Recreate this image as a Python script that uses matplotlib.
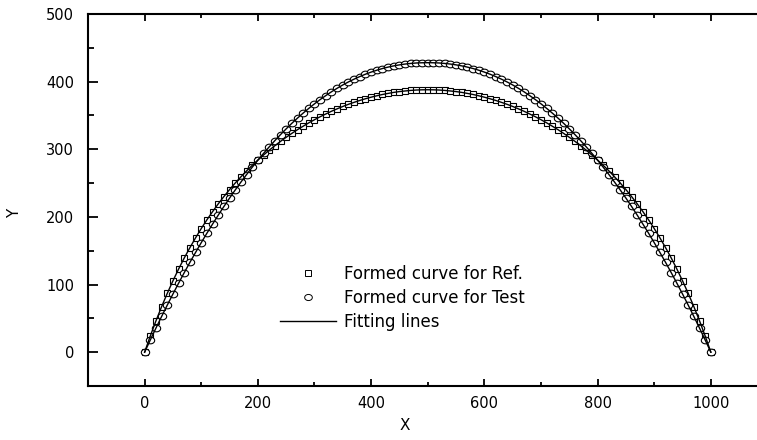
import matplotlib
matplotlib.use("Agg")
import matplotlib.pyplot as plt
from matplotlib.lines import Line2D
from matplotlib.path import Path
import numpy as np

x_vals = [0, 10, 20, 30, 40, 50, 60, 70, 80, 90, 100, 110, 120, 130, 140, 150, 160, 170, 180, 190,
          200, 210, 220, 230, 240, 250, 260, 270, 280, 290, 300, 310, 320, 330, 340, 350, 360, 370, 380, 390,
          400, 410, 420, 430, 440, 450, 460, 470, 480, 490, 500, 510, 520, 530, 540, 550, 560, 570, 580, 590,
          600, 610, 620, 630, 640, 650, 660, 670, 680, 690, 700, 710, 720, 730, 740, 750, 760, 770, 780, 790,
          800, 810, 820, 830, 840, 850, 860, 870, 880, 890, 900, 910, 920, 930, 940, 950, 960, 970, 980, 990,
          1000]

ref_y = [0, 23.9, 46.3, 67.3, 87.0, 105.5, 122.9, 139.3, 154.6, 169.1, 182.8, 195.7, 207.8, 219.3, 230.1,
         240.4, 250.1, 259.2, 268.0, 276.2, 284.1, 291.5, 298.6, 305.3, 311.7, 317.7, 323.5, 329.0, 334.1,
         339.1, 343.7, 348.1, 352.2, 356.2, 359.8, 363.3, 366.5, 369.4, 372.2, 374.7, 377.0, 379.1, 381.0,
         382.6, 384.1, 385.3, 386.2, 387.0, 387.6, 387.9, 388.0,
         387.9, 387.6, 387.0, 386.2, 385.3, 384.1, 382.6, 381.0, 379.1, 377.0, 374.7, 372.2, 369.4, 366.5,
         363.3, 359.8, 356.2, 352.2, 348.1, 343.7, 339.1, 334.1, 329.0, 323.5, 317.7, 311.7, 305.3, 298.6,
         291.5, 284.1, 276.2, 268.0, 259.2, 250.1, 240.4, 230.1, 219.3, 207.8, 195.7, 182.8, 169.1, 154.6,
         139.3, 122.9, 105.5, 87.0, 67.3, 46.3, 23.9, 0]

test_y = [0, 18.0, 35.6, 52.8, 69.6, 86.0, 102.0, 117.6, 132.8, 147.5, 161.9, 175.9, 189.4, 202.6, 215.4,
          227.8, 239.8, 251.4, 262.6, 273.4, 283.8, 293.9, 303.5, 312.8, 321.7, 330.2, 338.4, 346.1, 353.5,
          360.5, 367.2, 373.5, 379.4, 385.0, 390.2, 395.1, 399.6, 403.7, 407.5, 411.0, 414.1, 416.9, 419.4,
          421.5, 423.3, 424.8, 426.0, 426.9, 427.6, 427.9, 428.0,
          427.9, 427.6, 426.9, 426.0, 424.8, 423.3, 421.5, 419.4, 416.9, 414.1, 411.0, 407.5, 403.7, 399.6,
          395.1, 390.2, 385.0, 379.4, 373.5, 367.2, 360.5, 353.5, 346.1, 338.4, 330.2, 321.7, 312.8, 303.5,
          293.9, 283.8, 273.4, 262.6, 251.4, 239.8, 227.8, 215.4, 202.6, 189.4, 175.9, 161.9, 147.5, 132.8,
          117.6, 102.0, 86.0, 69.6, 52.8, 35.6, 18.0, 0]

x_ticks = [0, 200, 400, 600, 800, 1000]
y_ticks = [0, 100, 200, 300, 400, 500]
labels = ["Formed curve for Ref.", "Formed curve for Test", "Fitting lines"]

plt.rcParams['font.family'] = ['DejaVu Sans']

# slightly oval circle marker (reference looks horizontally stretched)
_t = np.linspace(0, 2 * np.pi, 60)
oval = Path(np.column_stack([np.cos(_t), 0.8 * np.sin(_t)]), closed=True)

W, H = 757, 440
fig = plt.figure(figsize=(W / 100, H / 100), dpi=100)
ax = fig.add_axes([88 / W, (H - 386) / H, (757 - 88) / W, (386 - 14) / H])

ax.plot(x_vals, ref_y, linestyle='none', marker='s', markersize=4.9, markerfacecolor='white',
        markeredgecolor='black', markeredgewidth=0.8, zorder=2)
ax.plot(x_vals, test_y, linestyle='none', marker=oval, markersize=6.0, markerfacecolor='white',
        markeredgecolor='black', markeredgewidth=0.8, zorder=2)
ax.plot(x_vals, ref_y, color='black', lw=1.0, zorder=3)
ax.plot(x_vals, test_y, color='black', lw=1.0, zorder=3)

ax.set_xlim(-100, 1081.5)
ax.set_ylim(-50, 500)
ax.set_xticks(x_ticks)
ax.set_yticks(y_ticks)
ax.set_xticks([100, 300, 500, 700, 900], minor=True)
ax.set_yticks([-50, 50, 150, 250, 350, 450], minor=True)
ax.spines['right'].set_visible(False)
for s in ['left', 'bottom', 'top']:
    ax.spines[s].set_linewidth(1.5)
ax.tick_params(axis='x', which='major', direction='in', length=5.2, width=1.3, top=True,
               labelsize=10.5, pad=7)
ax.tick_params(axis='x', which='minor', direction='in', length=2.8, width=1.3, top=True)
ax.tick_params(axis='y', which='major', direction='in', length=7.5, width=1.3, labelsize=10.5, pad=10)
ax.tick_params(axis='y', which='minor', direction='in', length=4.3, width=1.3)

fig.text(405 / W, 1 - 425 / H, "X", ha='center', va='center', fontsize=11)
fig.text(15 / W, 1 - 213 / H, "Y", ha='center', va='center', rotation=90, fontsize=11)

handles = [
    Line2D([], [], linestyle='none', marker='s', markersize=4.3, markerfacecolor='white',
           markeredgecolor='black', markeredgewidth=0.7),
    Line2D([], [], linestyle='none', marker=oval, markersize=5.5, markerfacecolor='white',
           markeredgecolor='black', markeredgewidth=0.7),
    Line2D([], [], color='black', lw=1.0),
]
leg = ax.legend(handles, labels, loc='upper left',
                bbox_to_anchor=((280 - 88) / (757 - 88), (386 - 265) / (386 - 14)),
                frameon=False, fontsize=12, handlelength=3.36, handletextpad=0.48,
                labelspacing=0.35, borderpad=0, borderaxespad=0)

fig.savefig("out.png", dpi=100)
